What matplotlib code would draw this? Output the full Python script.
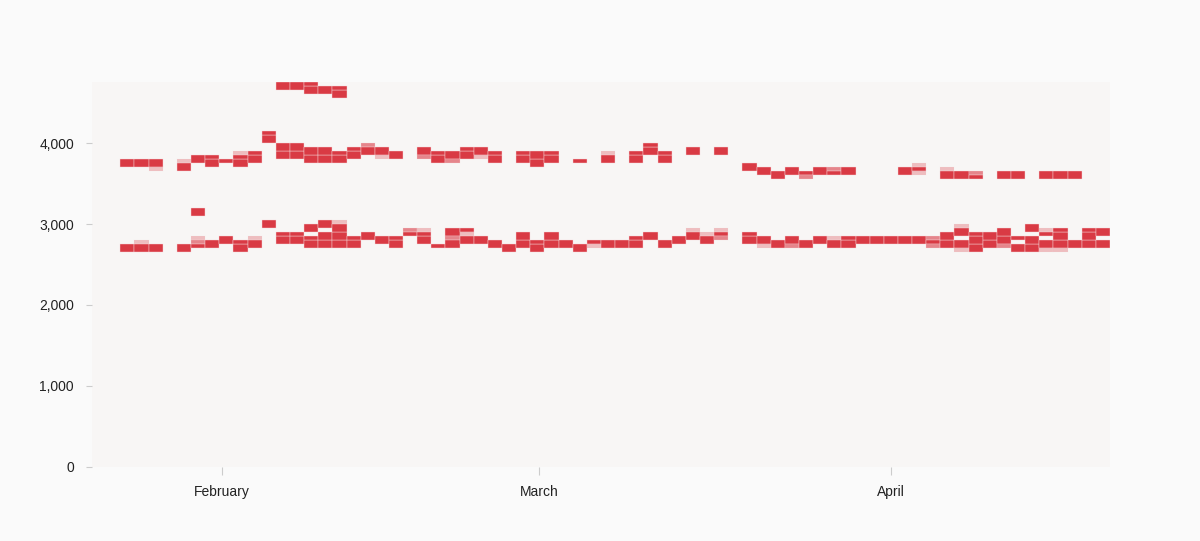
import matplotlib.pyplot as plt
import matplotlib.dates as mdates
from datetime import datetime

# x bins: 72 columns of ~30 hours each
first_bin = datetime(2021, 1, 20, 12, 50)
bin_days = 1.247
n_bins = 72

# shade -> opacity
shades = {"d": 1.0, "m": 0.6, "l": 0.3}

# (column, low, high, shade)
top_cells = [
    (13, 4650, 4750, "d"), (14, 4650, 4750, "d"), (15, 4600, 4750, "d"),
    (16, 4600, 4700, "d"), (17, 4550, 4700, "d"),
]

upper_cells = [
    (2, 3700, 3800, "d"), (3, 3700, 3800, "d"),
    (4, 3700, 3800, "d"), (4, 3650, 3700, "l"),
    (6, 3750, 3800, "l"), (6, 3650, 3750, "d"),
    (7, 3750, 3850, "d"), (8, 3700, 3850, "d"), (9, 3750, 3800, "d"),
    (10, 3850, 3900, "l"), (10, 3700, 3850, "d"),
    (11, 3750, 3900, "d"), (12, 4000, 4150, "d"),
    (13, 3800, 4000, "d"), (14, 3800, 4000, "d"),
    (15, 3750, 3950, "d"), (16, 3750, 3950, "d"),
    (17, 3750, 3900, "d"), (18, 3800, 3950, "d"),
    (19, 3950, 4000, "m"), (19, 3850, 3950, "d"),
    (20, 3850, 3950, "d"), (20, 3800, 3850, "l"),
    (21, 3800, 3900, "d"),
    (23, 3850, 3950, "d"), (23, 3800, 3850, "m"),
    (24, 3750, 3900, "d"),
    (25, 3800, 3900, "d"), (25, 3750, 3800, "m"),
    (26, 3800, 3950, "d"),
    (27, 3850, 3950, "d"), (27, 3800, 3850, "l"),
    (28, 3750, 3900, "d"), (30, 3750, 3900, "d"),
    (31, 3700, 3900, "d"), (32, 3750, 3900, "d"),
    (34, 3750, 3800, "d"),
    (36, 3850, 3900, "l"), (36, 3750, 3850, "d"),
    (38, 3750, 3900, "d"), (39, 3850, 4000, "d"), (40, 3750, 3900, "d"),
    (42, 3850, 3950, "d"), (44, 3850, 3950, "d"),
    (46, 3650, 3750, "d"), (47, 3600, 3700, "d"), (48, 3550, 3650, "d"),
    (49, 3600, 3700, "d"),
    (50, 3600, 3650, "d"), (50, 3550, 3600, "m"),
    (51, 3600, 3700, "d"),
    (52, 3650, 3700, "m"), (52, 3600, 3650, "d"),
    (53, 3600, 3700, "d"), (57, 3600, 3700, "d"),
    (58, 3700, 3750, "l"), (58, 3650, 3700, "d"), (58, 3600, 3650, "l"),
    (60, 3650, 3700, "l"), (60, 3550, 3650, "d"),
    (61, 3550, 3650, "d"),
    (62, 3600, 3650, "m"), (62, 3550, 3600, "d"),
    (64, 3550, 3650, "d"), (65, 3550, 3650, "d"),
    (67, 3550, 3650, "d"), (68, 3550, 3650, "d"), (69, 3550, 3650, "d"),
]

lower_cells = [
    (2, 2650, 2750, "d"),
    (3, 2750, 2800, "l"), (3, 2650, 2750, "d"),
    (4, 2650, 2750, "d"), (6, 2650, 2750, "d"),
    (7, 3100, 3200, "d"), (7, 2800, 2850, "l"), (7, 2750, 2800, "m"), (7, 2700, 2750, "d"),
    (8, 2700, 2800, "d"), (9, 2750, 2850, "d"), (10, 2650, 2800, "d"),
    (11, 2800, 2850, "l"), (11, 2700, 2800, "d"),
    (12, 2950, 3050, "d"), (13, 2750, 2900, "d"), (14, 2750, 2900, "d"),
    (15, 2900, 3000, "d"), (15, 2700, 2850, "d"),
    (16, 2950, 3050, "d"), (16, 2700, 2900, "d"),
    (17, 3000, 3050, "l"), (17, 2700, 3000, "d"),
    (18, 2700, 2850, "d"), (19, 2800, 2900, "d"), (20, 2750, 2850, "d"),
    (21, 2700, 2850, "d"),
    (22, 2900, 2950, "m"), (22, 2850, 2900, "d"),
    (23, 2900, 2950, "l"), (23, 2750, 2900, "d"),
    (24, 2700, 2750, "d"),
    (25, 2850, 2950, "d"), (25, 2800, 2850, "m"), (25, 2700, 2800, "d"),
    (26, 2900, 2950, "d"), (26, 2850, 2900, "l"), (26, 2750, 2850, "d"),
    (27, 2750, 2850, "d"), (28, 2700, 2800, "d"), (29, 2650, 2750, "d"),
    (30, 2700, 2900, "d"), (31, 2650, 2800, "d"), (32, 2700, 2900, "d"),
    (33, 2700, 2800, "d"), (34, 2650, 2750, "d"),
    (35, 2750, 2800, "d"), (35, 2700, 2750, "l"),
    (36, 2700, 2800, "d"), (37, 2700, 2800, "d"), (38, 2700, 2850, "d"),
    (39, 2800, 2900, "d"), (40, 2700, 2800, "d"), (41, 2750, 2850, "d"),
    (42, 2900, 2950, "l"), (42, 2800, 2900, "d"),
    (43, 2850, 2900, "l"), (43, 2750, 2850, "d"),
    (44, 2900, 2950, "l"), (44, 2850, 2900, "d"), (44, 2800, 2850, "m"),
    (46, 2750, 2900, "d"),
    (47, 2750, 2850, "d"), (47, 2700, 2750, "l"),
    (48, 2700, 2800, "d"),
    (49, 2750, 2850, "d"), (49, 2700, 2750, "m"),
    (50, 2700, 2800, "d"), (51, 2750, 2850, "d"),
    (52, 2800, 2850, "l"), (52, 2700, 2800, "d"),
    (53, 2700, 2850, "d"),
    (54, 2750, 2850, "d"), (55, 2750, 2850, "d"), (56, 2750, 2850, "d"),
    (57, 2750, 2850, "d"), (58, 2750, 2850, "d"),
    (59, 2800, 2850, "m"), (59, 2750, 2800, "d"), (59, 2700, 2750, "m"),
    (60, 2700, 2900, "d"),
    (61, 2950, 3000, "l"), (61, 2850, 2950, "d"), (61, 2700, 2800, "d"), (61, 2650, 2700, "l"),
    (62, 2650, 2900, "d"), (63, 2700, 2900, "d"),
    (64, 2750, 2950, "d"), (64, 2700, 2750, "m"),
    (65, 2800, 2850, "d"), (65, 2650, 2750, "d"),
    (66, 2900, 3000, "d"), (66, 2650, 2850, "d"),
    (67, 2900, 2950, "l"), (67, 2850, 2900, "d"), (67, 2700, 2800, "d"), (67, 2650, 2700, "l"),
    (68, 2700, 2950, "d"), (68, 2650, 2700, "l"),
    (69, 2700, 2800, "d"), (70, 2700, 2950, "d"),
    (71, 2850, 2950, "d"), (71, 2700, 2800, "d"),
]

y_ticks = [0, 1000, 2000, 3000, 4000]
month_ticks = [datetime(2021, 2, 1), datetime(2021, 3, 1), datetime(2021, 4, 1)]

red = "#d93a44"
plt.rcParams["font.family"] = ["Liberation Sans", "DejaVu Sans"]

fig = plt.figure(figsize=(12, 5.41), dpi=100, facecolor="#fafafa")
ax = fig.add_axes([0.0767, 0.1368, 0.8483, 0.7116], facecolor="#f8f6f5")

x0 = mdates.date2num(first_bin)
for col, lo, hi, shade in top_cells + upper_cells + lower_cells:
    x = x0 + col * bin_days
    b = lo
    while b < hi:
        top = min(b + 100, hi)
        ax.bar(x, top - b, bottom=b, width=bin_days, align="edge",
               color=red, alpha=shades[shade], edgecolor="#f6d9db", linewidth=0.3)
        b = top

ax.set_xlim(x0, x0 + n_bins * bin_days)
ax.set_ylim(0, 4753)

for s in ax.spines.values():
    s.set_visible(False)

ax.set_yticks(y_ticks)
ax.set_yticklabels([f"{v:,}" for v in y_ticks])
ax.set_xticks(mdates.date2num(month_ticks))
ax.set_xticklabels([d.strftime("%B") for d in month_ticks])
ax.tick_params(axis="y", length=4, color="#cccccc", pad=9, labelsize=10, labelcolor="#222222")
ax.tick_params(axis="x", length=6, color="#cccccc", pad=7, labelsize=10, labelcolor="#222222")

fig.savefig("out.png", dpi=100, facecolor=fig.get_facecolor())
